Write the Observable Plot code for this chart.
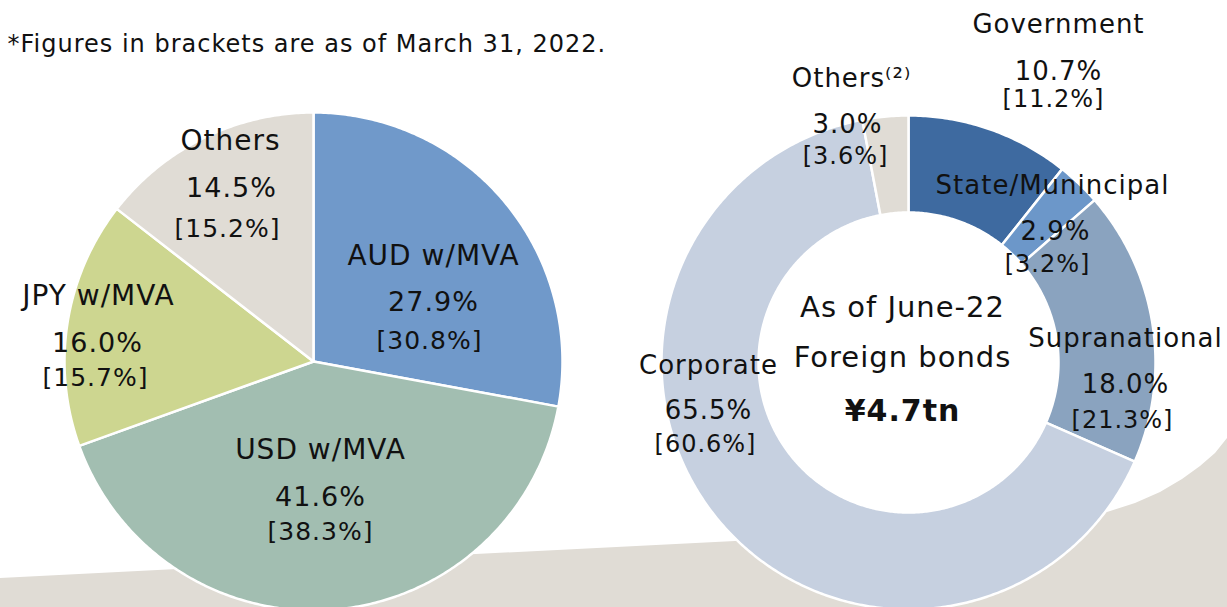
<!DOCTYPE html>
<html><head><meta charset="utf-8">
<script src="https://cdn.jsdelivr.net/npm/d3@7"></script>
<script src="https://cdn.jsdelivr.net/npm/@observablehq/plot@0.6"></script>
<style>
body{margin:0;background:#fff;}
#wrap{position:relative;width:1227px;height:607px;overflow:hidden;background:#fff;}
#bg{position:absolute;left:0;top:0;width:1227px;height:607px;background:#E0DCD5;
clip-path:polygon(0px 578px, 735px 541px, 1107px 512px, 1135px 503px, 1160px 492px, 1182px 479px, 1200px 466px, 1215px 453px, 1227px 438px, 1227px 607px, 0px 607px);}
#chart{position:absolute;left:0;top:0;}
</style></head><body><div id="wrap"><div id="bg"></div><div id="chart"></div></div>
<script>
// ---- data ----
const currencyNames = ["AUD w/MVA", "USD w/MVA", "JPY w/MVA", "Others"];
const currencyShare = [27.9, 41.6, 16.0, 14.5];
const currencyPrev  = [30.8, 38.3, 15.7, 15.2];
const sectorNames = ["Government", "State/Munincipal", "Supranational", "Corporate", "Others\u207D\u00B2\u207E"];
const sectorShare = [10.7, 2.9, 18.0, 65.5, 3.0];
const sectorPrev  = [11.2, 3.2, 21.3, 60.6, 3.6];
const centerLines = ["As of June-22", "Foreign bonds", "\u00A54.7tn"];
const note = "*Figures in brackets are as of March 31, 2022.";

// ---- styles / layout ----
const currencyColors = ["#7099CA", "#A2BEB1", "#CDD690", "#E0DCD5"];
const sectorColors = ["#3E6AA0", "#6C97C9", "#8AA3BF", "#C6D0E0", "#E0DCD5"];
const pieL = {cx: 313, cy: 361, r0: 0, r1: 249};
const pieR = {cx: 908, cy: 362, r0: 150, r1: 247};
// label offsets from pie centre: [name, pct, bracket] as [dx, dy]
const currencyLabelPos = [
  [[120, -105], [120, -59], [116, -21]],
  [[7, 89], [7, 136], [7, 170]],
  [[-215, -65], [-216, -18], [-218, 16]],
  [[-83, -220], [-82, -173], [-86, -133]]
];
const sectorLabelPos = [
  [[150, -338], [150, -291], [145, -263]],
  [[144, -177], [147, -131], [139, -98]],
  [[217, -24], [217, 22], [214, 58]],
  [[-200, 3], [-200, 48], [-203, 82]],
  [[-57, -284], [-61, -238], [-63, -206]]
];
const centerPos = [[-6, -55], [-6, -5], [-6, 49]];

function slices(shares, colors, pie, prefix) {
  const total = d3.sum(shares);
  const pts = [];
  let acc = 0;
  shares.forEach((v, i) => {
    const a0 = acc / total * 2 * Math.PI;
    acc += v;
    const a1 = acc / total * 2 * Math.PI;
    const n = Math.max(2, Math.ceil((a1 - a0) / 0.01));
    const key = prefix + i;
    for (let k = 0; k <= n; k++) {
      const a = a0 + (a1 - a0) * k / n;
      pts.push({key, color: colors[i], x: pie.cx + pie.r1 * Math.sin(a), y: pie.cy - pie.r1 * Math.cos(a)});
    }
    if (pie.r0 > 0) {
      for (let k = n; k >= 0; k--) {
        const a = a0 + (a1 - a0) * k / n;
        pts.push({key, color: colors[i], x: pie.cx + pie.r0 * Math.sin(a), y: pie.cy - pie.r0 * Math.cos(a)});
      }
    } else {
      pts.push({key, color: colors[i], x: pie.cx, y: pie.cy});
    }
  });
  return pts;
}

function labelRows(names, share, prev, pos, pie) {
  const rows = {name: [], pct: [], br: []};
  names.forEach((nm, i) => {
    rows.name.push({x: pie.cx + pos[i][0][0], y: pie.cy + pos[i][0][1], t: nm});
    rows.pct.push({x: pie.cx + pos[i][1][0], y: pie.cy + pos[i][1][1], t: share[i].toFixed(1) + "%"});
    rows.br.push({x: pie.cx + pos[i][2][0], y: pie.cy + pos[i][2][1], t: "[" + prev[i].toFixed(1) + "%]"});
  });
  return rows;
}

const L = labelRows(currencyNames, currencyShare, currencyPrev, currencyLabelPos, pieL);
const R = labelRows(sectorNames, sectorShare, sectorPrev, sectorLabelPos, pieR);
const C = centerLines.map((t, i) => ({x: pieR.cx + centerPos[i][0], y: pieR.cy + centerPos[i][1], t}));

const txt = (data, size, extra = {}) => Plot.text(data, {x: "x", y: "y", text: "t", fontSize: size, fill: "#111", lineAnchor: "middle", textAnchor: "middle", ...extra});

const chart = Plot.plot({
  width: 1227, height: 607, margin: 0,
  x: {domain: [0, 1227], range: [0, 1227], axis: null},
  y: {domain: [0, 607], range: [0, 607], axis: null},
  color: {type: "identity"},
  style: {background: "transparent", fontFamily: "DejaVu Sans, Verdana, sans-serif", overflow: "visible", letterSpacing: "1px"},
  marks: [
    Plot.line(slices(currencyShare, currencyColors, pieL, "c"), {x: "x", y: "y", z: "key", fill: "color", stroke: "#fff", strokeWidth: 2.5, curve: "linear-closed"}),
    Plot.line(slices(sectorShare, sectorColors, pieR, "s"), {x: "x", y: "y", z: "key", fill: "color", stroke: "#fff", strokeWidth: 2.5, curve: "linear-closed"}),
    txt([{x: 7, y: 44, t: note}], 24, {textAnchor: "start"}),
    txt(L.name, 28), txt(L.pct, 27), txt(L.br, 25),
    txt(R.name, 26), txt(R.pct, 26), txt(R.br, 24),
    txt(C.slice(0, 2), 29),
    txt(C.slice(2), 30, {fontWeight: "bold"})
  ]
});
document.getElementById("chart").appendChild(chart);
</script></body></html>
